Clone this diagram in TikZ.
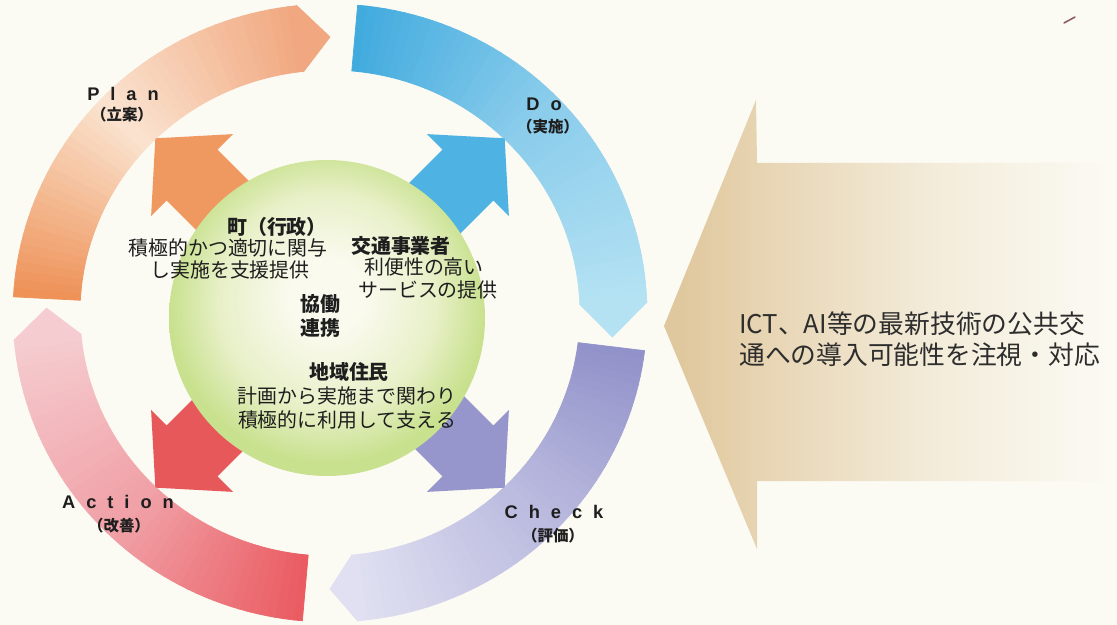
\documentclass[tikz,border=0pt]{standalone}
\usepackage{fontspec}
\newfontfamily\jp{Noto Sans CJK JP}
\newfontfamily\lat{Liberation Sans}
\definecolor{bg}{RGB}{251,250,243}
\definecolor{txt}{RGB}{30,30,30}
\definecolor{txtb}{RGB}{45,45,45}
% ring colours
\definecolor{oA}{RGB}{238,146,88}
\definecolor{oB}{RGB}{250,226,206}
\definecolor{oC}{RGB}{241,168,128}
\definecolor{bA}{RGB}{66,171,222}
\definecolor{bB}{RGB}{140,205,236}
\definecolor{bC}{RGB}{180,226,243}
\definecolor{pA}{RGB}{146,146,202}
\definecolor{pB}{RGB}{188,188,224}
\definecolor{pC}{RGB}{224,224,242}
\definecolor{rA}{RGB}{234,92,98}
\definecolor{rB}{RGB}{240,162,168}
\definecolor{rC}{RGB}{245,204,208}
% inner arrows
\definecolor{iO}{RGB}{239,152,96}
\definecolor{iB}{RGB}{78,178,226}
\definecolor{iR}{RGB}{231,88,90}
\definecolor{iP}{RGB}{150,150,204}
% hub
\definecolor{gA}{RGB}{250,250,238}
\definecolor{gB}{RGB}{232,240,200}
\definecolor{gC}{RGB}{200,225,142}
% beige arrow
\definecolor{eA}{RGB}{224,200,158}
\definecolor{eB}{RGB}{234,218,188}
\definecolor{eC}{RGB}{243,236,218}
\definecolor{penmark}{RGB}{140,88,92}
\pgfdeclareradialshading{greenball}{\pgfpoint{0bp}{4bp}}{color(0bp)=(gA); color(6bp)=(gA); color(17bp)=(gB); color(25bp)=(gC); color(50bp)=(gC)}
\pgfdeclarehorizontalshading{beigesh}{100bp}{color(0bp)=(eA); color(27bp)=(eA); color(40bp)=(eB); color(55bp)=(eC); color(74bp)=(bg); color(100bp)=(bg)}
\def\cx{330}\def\cy{313}
\def\Ro{317}\def\Rq{309}
\def\Ri{250}\def\Rj{243}
\def\Rm{283.5}\def\Rn{276}
\def\icx{330}\def\icy{313}
\newcommand\ringarrow[6]{%
  \pgfmathsetmacro\am{(#1+#2)/2}%
  \foreach \i in {0,...,23}{%
    \pgfmathsetmacro\pa{#1+(\am-(#1))*\i/24}%
    \pgfmathsetmacro\pb{#1+(\am-(#1))*(\i+1)/24}%
    \pgfmathtruncatemacro\pc{100*\i/23}%
    \fill[fill={#5!\pc!#4},draw={#5!\pc!#4},line width=0.6pt]
      ({\cx+\Ro*cos(\pa)},{\cy-\Rq*sin(\pa)}) -- ({\cx+\Ro*cos(\pb)},{\cy-\Rq*sin(\pb)})
      -- ({\cx+\Ri*cos(\pb)},{\cy-\Rj*sin(\pb)}) -- ({\cx+\Ri*cos(\pa)},{\cy-\Rj*sin(\pa)}) -- cycle;
  }%
  \foreach \i in {0,...,23}{%
    \pgfmathsetmacro\pa{\am+(#2-\am)*\i/24}%
    \pgfmathsetmacro\pb{\am+(#2-\am)*(\i+1)/24}%
    \pgfmathtruncatemacro\pc{100*\i/23}%
    \fill[fill={#6!\pc!#5},draw={#6!\pc!#5},line width=0.6pt]
      ({\cx+\Ro*cos(\pa)},{\cy-\Rq*sin(\pa)}) -- ({\cx+\Ro*cos(\pb)},{\cy-\Rq*sin(\pb)})
      -- ({\cx+\Ri*cos(\pb)},{\cy-\Rj*sin(\pb)}) -- ({\cx+\Ri*cos(\pa)},{\cy-\Rj*sin(\pa)}) -- cycle;
  }%
  \fill[fill=#6,draw=#6,line width=0.6pt]
    ({\cx+\Ro*cos(#2)},{\cy-\Rq*sin(#2)}) -- ({\cx+\Rm*cos(#3)},{\cy-\Rn*sin(#3)})
    -- ({\cx+\Ri*cos(#2)},{\cy-\Rj*sin(#2)}) -- cycle;
}
\newcommand\diagarrow[2]{%
  \fill[#2, shift={(\icx,\icy)}, rotate=#1]
    (100,-36) -- (195,-36) -- (195,-58) -- (247,0) -- (195,58) -- (195,36) -- (100,36) -- cycle;
}
\newcommand\lsp{\hspace{0.6em}}
\tikzset{
  jt/.style={font=\jp\fontsize{17}{20}\selectfont, text=txt, inner sep=0pt},
  jh/.style={font=\jp\bfseries\fontsize{17}{20}\selectfont, text=txt, inner sep=0pt},
  pdca/.style={font=\lat\bfseries\fontsize{15.6}{18}\selectfont, text=txt, inner sep=0pt},
  pdcaj/.style={font=\jp\bfseries\fontsize{13.2}{15}\selectfont, text=txt, inner sep=0pt},
  ict/.style={font=\jp\fontsize{22}{26}\selectfont, text=txtb, inner sep=0pt, anchor=west},
}
\begin{document}
\begin{tikzpicture}[x=0.03cm, y=-0.03cm]
\useasboundingbox (0,0) rectangle (1117,625);
\fill[bg] (0,0) rectangle (1117,625);
% big beige arrow
\shade[shading=beigesh] (664,326) -- (756,100) -- (757,163) -- (1117,163) -- (1117,481) -- (757,481) -- (757,549) -- cycle;
% outer cycle
\ringarrow{177}{96}{90}{oA}{oB}{oC}
\ringarrow{85}{2}{-5}{bA}{bB}{bC}
\ringarrow{-7}{-85}{-90}{pA}{pB}{pC}
\ringarrow{-95}{-175}{-181}{rA}{rB}{rC}
% inner arrows
\diagarrow{135}{iO}
\diagarrow{45}{iB}
\diagarrow{225}{iR}
\diagarrow{-45}{iP}
% hub
\shade[shading=greenball] (327,318) circle (158);
% hub texts
\node[jh] (h1) at (277,227) {町（行政）};
\node[jt] (b1a) at (228,248) {積極的かつ適切に関与};
\node[jt] (b1b) at (230,270) {し実施を支援提供};
\node[jh] (h2) at (401,246) {交通事業者};
\node[jt] (b2a) at (424,267) {利便性の高い};
\node[jt] (b2b) at (428,290) {サービスの提供};
\node[jh] (k1) at (320,304) {協働};
\node[jh] (k2) at (320,328) {連携};
\node[jh] (h3) at (349,372) {地域住民};
\node[jt] (b3a) at (347,396) {計画から実施まで関わり};
\node[jt] (b3b) at (347,420) {積極的に利用して支える};
% PDCA labels
\node[pdca] (plan) at (123,94) {P\lsp l\lsp a\lsp n};
\node[pdcaj] (planj) at (122,115) {（立案）};
\node[pdca] (do) at (544,104) {D\lsp o};
\node[pdcaj] (doj) at (548,127) {（実施）};
\node[pdca] (act) at (118,502) {A\lsp c\lsp t\lsp i\lsp o\lsp n};
\node[pdcaj] (actj) at (119,526) {（改善）};
\node[pdca] (chk) at (554,512) {C\lsp h\lsp e\lsp c\lsp k};
\node[pdcaj] (chkj) at (553,536) {（評価）};
% right text
\node[ict] (ict1) at (739,324) {ICT、AI等の最新技術の公共交};
\node[ict] (ict2) at (739,355) {通への導入可能性を注視・対応};
% small pen mark
\draw[penmark, line width=1.3pt, line cap=round] (1064,23) -- (1075,17);
\end{tikzpicture}
\end{document}
